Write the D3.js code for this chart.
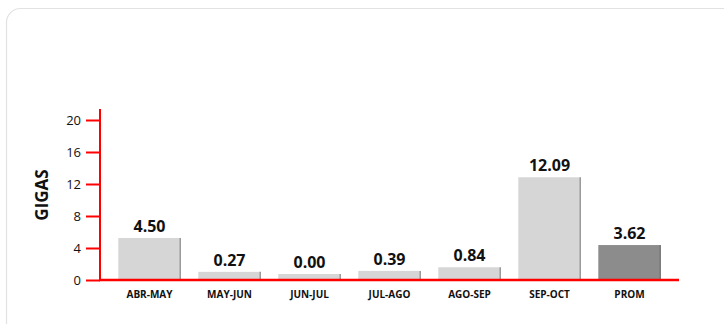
<!DOCTYPE html>
<html><head><meta charset="utf-8">
<script src="https://cdn.jsdelivr.net/npm/d3@7"></script>
<style>
html,body{margin:0;padding:0;background:#fff;}
svg{display:block;font-family:"Open Sans","Noto Sans",sans-serif;}
</style></head>
<body>
<svg id="chart" width="724" height="324"></svg>
<script>
const categories = ["ABR-MAY","MAY-JUN","JUN-JUL","JUL-AGO","AGO-SEP","SEP-OCT","PROM"];
const values = [4.50, 0.27, 0.00, 0.39, 0.84, 12.09, 3.62];
const yTicks = [0, 4, 8, 12, 16, 20];
const yLabel = "GIGAS";

const svg = d3.select("#chart");

// card
svg.append("rect").attr("x",6.5).attr("y",8.5).attr("width",760).attr("height",340)
  .attr("rx",14).attr("fill","#fff").attr("stroke","#e2e2e2").attr("stroke-width",1.2);

const x = d3.scaleBand().domain(categories).range([109.5, 669.5]).paddingInner(0.22).paddingOuter(0.11);
const y = d3.scaleLinear().domain([0, 20]).range([280, 120]);
const baseLift = 6;

// bars
const bars = svg.append("g");
bars.selectAll("rect.bar").data(categories).join("rect")
  .attr("class","bar")
  .attr("x", d => x(d))
  .attr("y", (d,i) => y(values[i]) - baseLift)
  .attr("width", x.bandwidth())
  .attr("height", (d,i) => y(0) - y(values[i]) + baseLift)
  .attr("fill", d => d === "PROM" ? "#8c8c8c" : "#d6d6d6");
bars.selectAll("line.edge").data(categories).join("line")
  .attr("class","edge")
  .attr("x1", d => x(d) + x.bandwidth() - 0.5)
  .attr("x2", d => x(d) + x.bandwidth() - 0.5)
  .attr("y1", (d,i) => y(values[i]) - baseLift)
  .attr("y2", y(0))
  .attr("stroke", d => d === "PROM" ? "#6f6f6f" : "#8a8a8a").attr("stroke-width",1.2);

// value labels
svg.append("g").selectAll("text").data(categories).join("text")
  .attr("x", d => x(d) + x.bandwidth()/2)
  .attr("y", (d,i) => y(values[i]) - baseLift - 6)
  .attr("text-anchor","middle")
  .attr("font-size",16).attr("font-weight",700).attr("fill","#111")
  .text((d,i) => values[i].toFixed(2));

// y axis
const yAxis = d3.axisLeft(y).tickValues(yTicks).tickSize(14).tickPadding(5).tickFormat(d3.format("d"));
const gy = svg.append("g").attr("transform","translate(100,0)").call(yAxis);
gy.select(".domain").remove();
gy.selectAll(".tick line").attr("stroke","#f00").attr("stroke-width",2);
gy.selectAll(".tick text").attr("font-size",13).attr("fill","#111").attr("font-family","Open Sans, Noto Sans, sans-serif");
svg.append("line").attr("x1",100).attr("x2",100).attr("y1",109).attr("y2",281)
  .attr("stroke","#f00").attr("stroke-width",2);

// x axis
const xAxis = d3.axisBottom(x).tickSize(0).tickPadding(11);
const gx = svg.append("g").attr("transform","translate(0,280)").call(xAxis);
gx.select(".domain").remove();
gx.selectAll(".tick text").attr("font-size",10).attr("font-weight",700).attr("fill","#111")
  .attr("font-family","Open Sans, Noto Sans, sans-serif");
svg.append("line").attr("x1",99).attr("x2",679).attr("y1",280).attr("y2",280)
  .attr("stroke","#f00").attr("stroke-width",2.5);

// y label
svg.append("text").attr("transform","translate(48,195) rotate(-90)")
  .attr("text-anchor","middle").attr("font-size",17).attr("font-weight",700).attr("fill","#111")
  .text(yLabel);
</script>
</body></html>
